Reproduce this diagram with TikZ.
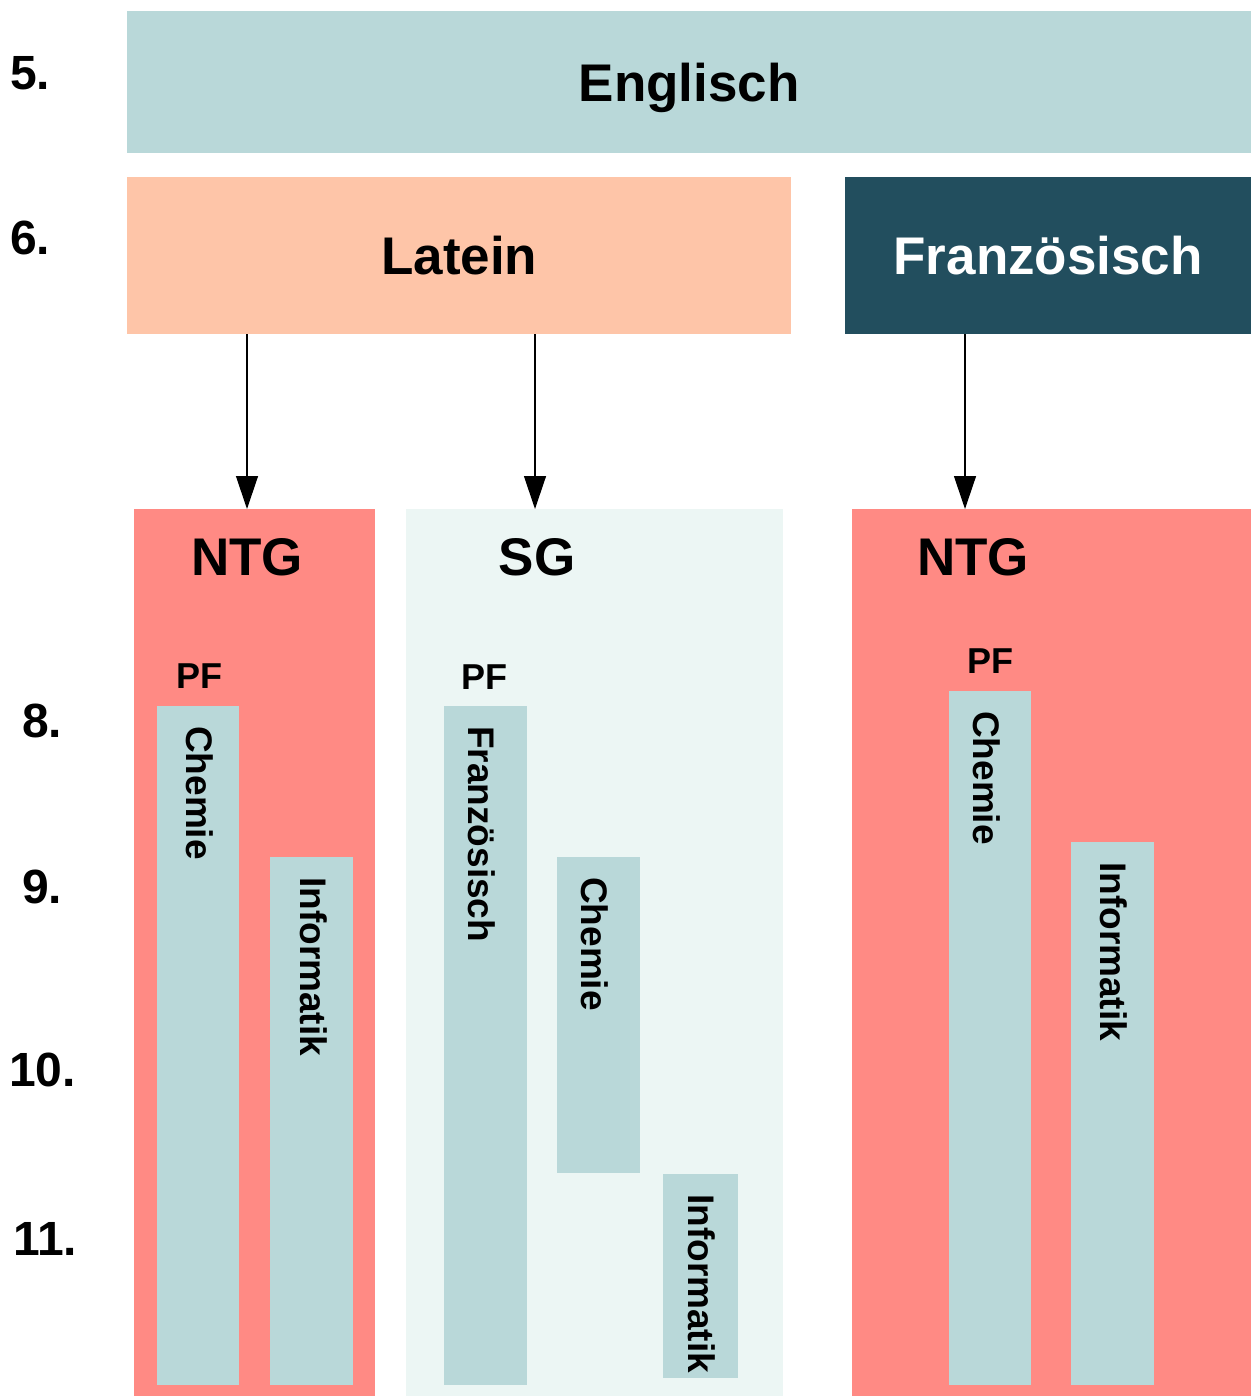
\documentclass[tikz,border=0pt]{standalone}
\usepackage{fontspec}
\setmainfont{Liberation Sans}
\usetikzlibrary{arrows.meta}
\definecolor{tealL}{HTML}{B9D8D9}
\definecolor{peach}{HTML}{FEC5A8}
\definecolor{darkteal}{HTML}{224E5E}
\definecolor{salmon}{HTML}{FF8A84}
\definecolor{sgbg}{HTML}{ECF6F4}
\tikzset{
  blockbox/.style={rectangle, inner sep=0pt, anchor=north west, draw=none},
  bigfont/.style={font=\fontsize{53}{53}\selectfont\bfseries, text height=38pt, text depth=0pt},
  biglabel/.style={bigfont, inner sep=0pt},
  yearlabel/.style={font=\fontsize{48}{48}\selectfont\bfseries, text height=34pt, text depth=0pt, inner sep=0pt, anchor=west},
  pflabel/.style={font=\fontsize{36}{36}\selectfont\bfseries, text height=26pt, text depth=0pt, inner sep=0pt},
  bar/.style={blockbox, fill=tealL},
  bartext/.style={font=\fontsize{37}{37}\selectfont\bfseries, text height=26.5pt, text depth=0pt, inner sep=0pt, rotate=-90, anchor=west},
  arr/.style={line width=1.3pt, -{Triangle[length=33pt,width=22pt]}}
}
\begin{document}
\begin{tikzpicture}[x=1pt,y=-1pt]
\useasboundingbox[fill=white] (0,0) rectangle (1251,1396);

% year labels
\node[yearlabel] (y5) at (10,73) {5.};
\node[yearlabel] (y6) at (10,238) {6.};
\node[yearlabel] (y8) at (22,720) {8.};
\node[yearlabel] (y9) at (22,886) {9.};
\node[yearlabel] (y10) at (9,1069) {10.};
\node[yearlabel] (y11) at (13,1238) {11.};

% top rows
\node[blockbox, fill=tealL, minimum width=1124pt, minimum height=142pt, bigfont] (englisch) at (127,11) {Englisch};
\node[blockbox, fill=peach, minimum width=664pt, minimum height=157pt, bigfont] (latein) at (127,177) {Latein};
\node[blockbox, fill=darkteal, minimum width=406pt, minimum height=157pt, bigfont, text=white] (franz) at (845,177) {Französisch};

% group boxes
\node[blockbox, fill=salmon, minimum width=241pt, minimum height=887pt] (ntgA) at (134,509) {};
\node[blockbox, fill=sgbg, minimum width=377pt, minimum height=887pt] (sg) at (406,509) {};
\node[blockbox, fill=salmon, minimum width=399pt, minimum height=887pt] (ntgB) at (852,509) {};

\node[biglabel] (ntgAlab) at (247,556) {NTG};
\node[biglabel] (sglab) at (537,556) {SG};
\node[biglabel] (ntgBlab) at (973,556) {NTG};

\node[pflabel] (pfA) at (199.5,675) {PF};
\node[pflabel] (pfS) at (484,676) {PF};
\node[pflabel] (pfB) at (990.5,660.5) {PF};

% bars
\node[bar, minimum width=82pt, minimum height=679pt] (b1) at (157,706) {};
\node[bar, minimum width=83pt, minimum height=528pt] (b2) at (270,857) {};
\node[bar, minimum width=83pt, minimum height=679pt] (b3) at (444,706) {};
\node[bar, minimum width=83pt, minimum height=316pt] (b4) at (557,857) {};
\node[bar, minimum width=75pt, minimum height=204pt] (b5) at (663,1174) {};
\node[bar, minimum width=82pt, minimum height=694pt] (b6) at (949,691) {};
\node[bar, minimum width=83pt, minimum height=543pt] (b7) at (1071,842) {};

\node[bartext] (t1) at (200,726) {Chemie};
\node[bartext] (t2) at (314,877) {Informatik};
\node[bartext] (t3) at (482,726) {Französisch};
\node[bartext] (t4) at (595,877) {Chemie};
\node[bartext] (t5) at (702,1194) {Informatik};
\node[bartext] (t6) at (987,711) {Chemie};
\node[bartext] (t7) at (1114,862) {Informatik};

% arrows
\coordinate (ax1) at (247,0);
\coordinate (ax2) at (535,0);
\coordinate (ax3) at (965,0);
\draw[arr] (latein.south -| ax1) -- (ntgA.north -| ax1);
\draw[arr] (latein.south -| ax2) -- (sg.north -| ax2);
\draw[arr] (franz.south -| ax3) -- (ntgB.north -| ax3);
\end{tikzpicture}
\end{document}
